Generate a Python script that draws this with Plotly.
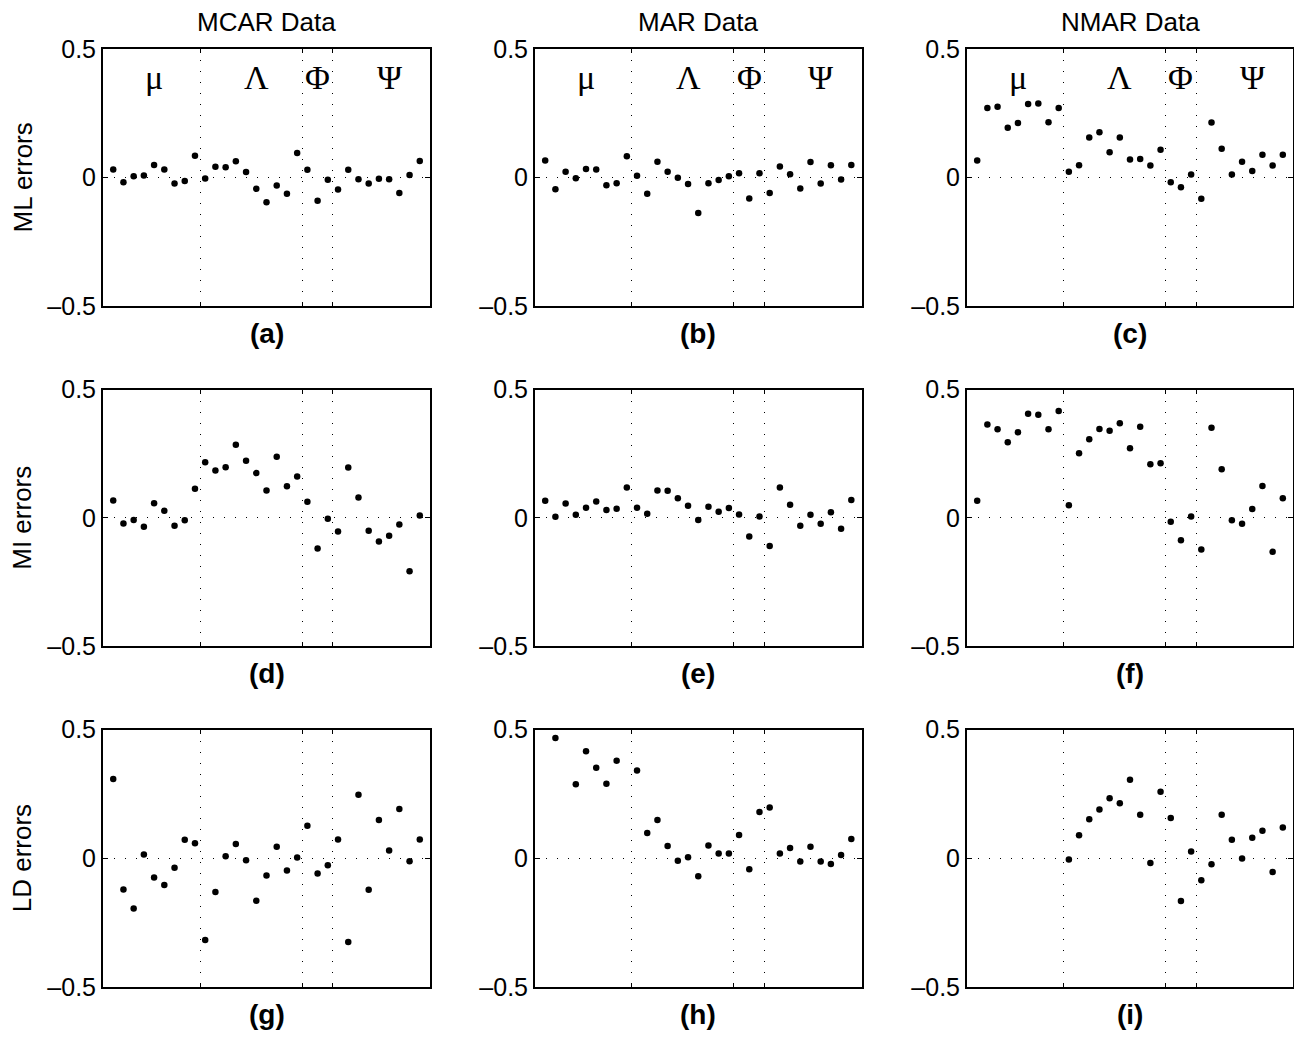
import plotly.graph_objects as go

N = None
idx = list(range(1, 32))

ml_mcar = [0.031, -0.018, 0.005, 0.008, 0.049, 0.031, -0.023, -0.014, 0.085,
           -0.004, 0.042, 0.040, 0.063, 0.021, -0.044, -0.096, -0.031, -0.063, 0.095,
           0.030, -0.090, -0.009,
           -0.047, 0.030, -0.007, -0.023, -0.005, -0.007, -0.060, 0.010, 0.064]
ml_mar = [0.066, -0.046, 0.022, -0.003, 0.033, 0.031, -0.030, -0.022, 0.083,
          0.007, -0.063, 0.061, 0.022, -0.001, -0.025, -0.138, -0.022, -0.010, 0.005,
          0.017, -0.082, 0.017,
          -0.060, 0.043, 0.013, -0.043, 0.060, -0.023, 0.048, -0.008, 0.049]
ml_nmar = [0.066, 0.270, 0.275, 0.194, 0.212, 0.286, 0.288, 0.215, 0.270,
           0.022, 0.048, 0.156, 0.176, 0.098, 0.156, 0.070, 0.072, 0.047, 0.108,
           -0.018, -0.038, 0.012,
           -0.083, 0.214, 0.112, 0.012, 0.061, 0.025, 0.089, 0.047, 0.089]
mi_mcar = [0.067, -0.022, -0.009, -0.035, 0.057, 0.027, -0.031, -0.010, 0.113,
           0.216, 0.184, 0.197, 0.285, 0.222, 0.174, 0.106, 0.238, 0.123, 0.161,
           0.062, -0.120, -0.004,
           -0.054, 0.196, 0.079, -0.051, -0.093, -0.070, -0.026, -0.209, 0.009]
mi_mar = [0.066, 0.004, 0.056, 0.012, 0.039, 0.063, 0.030, 0.035, 0.118,
          0.039, 0.016, 0.106, 0.105, 0.076, 0.047, -0.009, 0.043, 0.023, 0.038,
          0.013, -0.073, 0.005,
          -0.110, 0.118, 0.051, -0.031, 0.012, -0.023, 0.021, -0.043, 0.069]
mi_nmar = [0.066, 0.364, 0.345, 0.294, 0.333, 0.405, 0.402, 0.345, 0.416,
           0.049, 0.251, 0.306, 0.346, 0.339, 0.368, 0.271, 0.355, 0.209, 0.212,
           -0.016, -0.088, 0.005,
           -0.124, 0.351, 0.189, -0.010, -0.023, 0.034, 0.124, -0.133, 0.076]
ld_mcar = [0.308, -0.121, -0.195, 0.015, -0.075, -0.104, -0.037, 0.072, 0.058,
           -0.317, -0.131, 0.008, 0.055, -0.008, -0.165, -0.067, 0.045, -0.048, 0.003,
           0.126, -0.059, -0.027,
           0.073, -0.325, 0.247, -0.122, 0.149, 0.030, 0.191, -0.012, 0.073]
ld_mar = [N, 0.467, N, 0.287, 0.416, 0.351, 0.289, 0.379, N,
          0.341, 0.098, 0.149, 0.048, -0.010, 0.004, -0.070, 0.050, 0.018, 0.018,
          0.090, -0.043, 0.180,
          0.197, 0.018, 0.040, -0.013, 0.045, -0.013, -0.022, 0.013, 0.075]
ld_nmar = [N, N, N, N, N, N, N, N, N,
           -0.005, 0.089, 0.151, 0.189, 0.233, 0.214, 0.305, 0.169, -0.018, 0.258,
           0.156, -0.166, 0.026,
           -0.085, -0.023, 0.169, 0.072, -0.001, 0.080, 0.107, -0.053, 0.119]

grid_data = [[ml_mcar, ml_mar, ml_nmar],
             [mi_mcar, mi_mar, mi_nmar],
             [ld_mcar, ld_mar, ld_nmar]]
col_titles = ["MCAR Data", "MAR Data", "NMAR Data"]
row_labels = ["ML errors", "MI errors", "LD errors"]
panel_labels = [["(a)", "(b)", "(c)"], ["(d)", "(e)", "(f)"], ["(g)", "(h)", "(i)"]]
greek = ["μ", "Λ", "Φ", "Ψ"]
greek_x = [5, 15, 21, 28]
greek_y = 0.39
section_breaks = [9.5, 19.5, 22.5]
y_ticks = [-0.5, 0, 0.5]
y_ticktext = ["–0.5", "0", "0.5"]

W, H = 1302, 1039
OFF = 8  # page body margin shifts the figure by this many pixels


def px_x(v):
    return (v - OFF) / W


def px_y(v):
    return 1 - (v - OFF) / H


xdoms = [(px_x(103), px_x(430)), (px_x(535), px_x(861.5)), (px_x(967), px_x(1293))]
ydoms = [(px_y(306), px_y(49)), (px_y(646), px_y(389.5)), (px_y(987), px_y(729.5))]

fig = go.Figure()
font_main = "Liberation Sans, Arial, Helvetica, sans-serif"
annotations = []
for r in range(3):
    for c in range(3):
        k = r * 3 + c + 1
        xa = "xaxis" if k == 1 else f"xaxis{k}"
        ya = "yaxis" if k == 1 else f"yaxis{k}"
        xref = "x" if k == 1 else f"x{k}"
        yref = "y" if k == 1 else f"y{k}"
        fig.add_trace(go.Scatter(x=idx, y=grid_data[r][c], mode="markers",
                                 marker=dict(color="black", size=6.5),
                                 xaxis=xref, yaxis=yref, showlegend=False,
                                 cliponaxis=True))
        fig.layout[xa] = dict(domain=list(xdoms[c]), anchor=yref, range=[0, 32],
                              tickvals=section_breaks, showticklabels=False,
                              ticks="inside", ticklen=4, tickcolor="black",
                              showgrid=True, gridcolor="black", gridwidth=1,
                              griddash="1px,10px", zeroline=False, automargin=False,
                              showline=True, linecolor="black", linewidth=2,
                              mirror="ticks")
        fig.layout[ya] = dict(domain=list(ydoms[r]), anchor=xref, range=[-0.5, 0.5],
                              tickvals=y_ticks, ticktext=y_ticktext,
                              ticks="inside", ticklen=5, tickcolor="black",
                              showgrid=True, gridcolor="black", gridwidth=1,
                              griddash="1px,10px", zeroline=False, automargin=False,
                              showline=True, linecolor="black", linewidth=2,
                              mirror="ticks",
                              tickfont=dict(family=font_main, size=25, color="black"))
        xc = (xdoms[c][0] + xdoms[c][1]) / 2
        annotations.append(dict(text="<b>" + panel_labels[r][c] + "</b>", x=xc,
                                y=ydoms[r][0] - 27 / H, xref="paper", yref="paper",
                                showarrow=False, xanchor="center", yanchor="middle",
                                font=dict(family=font_main, size=28, color="black")))
        if r == 0:
            annotations.append(dict(text=col_titles[c], x=xc, y=px_y(22),
                                    xref="paper", yref="paper", showarrow=False,
                                    xanchor="center", yanchor="middle",
                                    font=dict(family=font_main, size=26, color="black")))
            for g, gx in zip(greek, greek_x):
                annotations.append(dict(text=g, x=gx, y=greek_y, xref=xref, yref=yref,
                                        showarrow=False, xanchor="center", yanchor="middle",
                                        font=dict(family="Liberation Serif, Times New Roman, serif",
                                                  size=34, color="black")))
    yc = (ydoms[r][0] + ydoms[r][1]) / 2
    annotations.append(dict(text=row_labels[r], x=px_x(22), y=yc, xref="paper", yref="paper",
                            showarrow=False, xanchor="center", yanchor="middle",
                            textangle=-90,
                            font=dict(family=font_main, size=26, color="black")))

fig.update_layout(width=W, height=H, margin=dict(l=0, r=0, t=0, b=0),
                  paper_bgcolor="white", plot_bgcolor="white",
                  annotations=annotations)
fig.write_html("out.html")
